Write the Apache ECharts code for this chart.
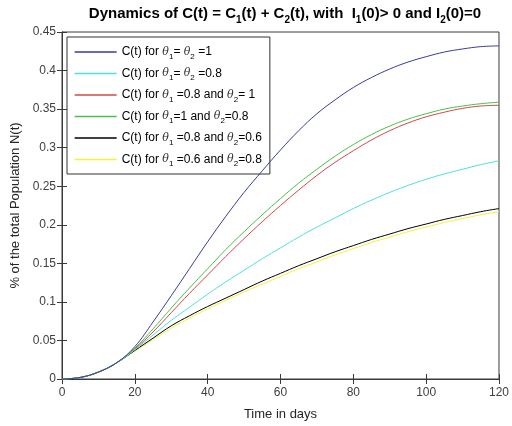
<!DOCTYPE html>
<html>
<head>
<meta charset="utf-8">
<script src="https://cdn.jsdelivr.net/npm/echarts@6/dist/echarts.min.js"></script>
<style>html,body{margin:0;padding:0;background:#fff;}#c{width:512px;height:426px;}</style>
</head>
<body>
<div id="c"></div>
<script>
var days = [0,5,10,15,20,25,30,35,40,45,50,55,60,65,70,75,80,85,90,95,100,105,110,115,120];
var xTicks = [0,20,40,60,80,100,120];
var yTicks = [0,0.05,0.1,0.15,0.2,0.25,0.3,0.35,0.4,0.45];

var cBoth1   = [0,0.002,0.009,0.021,0.042,0.074,0.108,0.143,0.178,0.211,0.242,0.270,0.297,0.322,0.344,0.362,0.378,0.391,0.402,0.411,0.418,0.424,0.428,0.431,0.432];
var cBoth08  = [0,0.002,0.009,0.021,0.038,0.057,0.076,0.093,0.110,0.126,0.141,0.156,0.170,0.184,0.197,0.209,0.221,0.232,0.242,0.251,0.259,0.266,0.272,0.278,0.283];
var c08and1  = [0,0.002,0.009,0.021,0.039,0.061,0.086,0.111,0.135,0.159,0.182,0.204,0.225,0.245,0.264,0.281,0.296,0.310,0.322,0.332,0.340,0.346,0.351,0.354,0.355];
var c1and08  = [0,0.002,0.009,0.021,0.040,0.065,0.092,0.118,0.143,0.168,0.191,0.213,0.234,0.254,0.272,0.289,0.304,0.317,0.328,0.337,0.344,0.350,0.354,0.357,0.359];
var c08and06 = [0,0.002,0.009,0.021,0.037,0.053,0.069,0.082,0.094,0.105,0.116,0.127,0.137,0.147,0.156,0.165,0.173,0.181,0.188,0.195,0.201,0.207,0.212,0.217,0.221];
var c06and08 = [0,0.002,0.009,0.021,0.036,0.051,0.066,0.079,0.091,0.102,0.113,0.123,0.133,0.143,0.152,0.161,0.169,0.177,0.184,0.191,0.197,0.203,0.208,0.213,0.217];

var names = ['s1','s2','s3','s4','s5','s6'];
var legendRich = {
  s1: '{n|C(t) for }{th|θ}{sb|1}{n|= }{th|θ}{sb|2}{n| =1}',
  s2: '{n|C(t) for }{th|θ}{sb|1}{n|= }{th|θ}{sb|2}{n| =0.8}',
  s3: '{n|C(t) for }{th|θ}{sb|1}{n| =0.8 and }{th|θ}{sb|2}{n|= 1}',
  s4: '{n|C(t) for }{th|θ}{sb|1}{n|=1 and }{th|θ}{sb|2}{n|=0.8}',
  s5: '{n|C(t) for }{th|θ}{sb|1}{n| =0.8 and }{th|θ}{sb|2}{n|=0.6}',
  s6: '{n|C(t) for }{th|θ}{sb|1}{n| =0.6 and }{th|θ}{sb|2}{n|=0.8}'
};
var seriesData = [cBoth1, cBoth08, c08and1, c1and08, c08and06, c06and08];
var colors = ['#3a3a9e','#4ee0e0','#d44848','#48c048','#000000','#f2f23a'];

function pairs(arr){ return days.map(function(d,i){ return [d, arr[i]]; }); }

var font = 'Liberation Sans, Arial, sans-serif';
var chart = echarts.init(document.getElementById('c'), null, {renderer:'canvas'});
var axisCol = '#3a3a3a';
var opt = {
  animation: false,
  backgroundColor: '#fff',
  title: {
    text: '{t|Dynamics of C(t) = C}{s|1}{t|(t) + C}{s|2}{t|(t), with  I}{s|1}{t|(0)> 0 and I}{s|2}{t|(0)=0}',
    left: 280, top: -2, textAlign: 'center',
    textStyle: {
      rich: {
        t: {fontFamily: font, fontWeight: 'bold', fontSize: 15, color: '#000', lineHeight: 22, verticalAlign: 'middle'},
        s: {fontFamily: font, fontWeight: 'bold', fontSize: 10, color: '#000', lineHeight: 10, verticalAlign: 'bottom'}
      }
    }
  },
  grid: {left: 62, right: 12, top: 32, bottom: 47, show: true, borderColor: axisCol, borderWidth: 1},
  legend: {
    orient: 'vertical', left: 67, top: 37,
    data: names,
    itemWidth: 42, itemHeight: 10, itemGap: 7,
    itemStyle: {opacity: 0},
    lineStyle: {width: 1.3},
    backgroundColor: '#fff', borderColor: '#333', borderWidth: 1,
    padding: [9, 8, 6, 7],
    formatter: function(n){ return legendRich[n]; },
    textStyle: {
      fontFamily: font, fontSize: 12, color: '#000',
      rich: {
        n: {fontFamily: font, fontSize: 12, color: '#000', lineHeight: 17, verticalAlign: 'middle'},
        th: {fontFamily: 'DejaVu Serif, serif', fontStyle: 'italic', fontSize: 11, color: '#333', lineHeight: 17, verticalAlign: 'middle'},
        sb: {fontFamily: font, fontSize: 8, color: '#000', lineHeight: 8, verticalAlign: 'bottom'}
      }
    }
  },
  xAxis: [{
    type: 'value', min: 0, max: 120, interval: 20,
    name: 'Time in days', nameLocation: 'middle', nameGap: 29,
    nameTextStyle: {fontFamily: font, fontSize: 13, color: '#262626'},
    axisLine: {show: true, lineStyle: {color: axisCol}},
    axisTick: {show: true, inside: true, length: 5, lineStyle: {color: axisCol}},
    axisLabel: {fontFamily: font, fontSize: 12, color: '#404040', margin: 8,
      formatter: function(v){ return xTicks.indexOf(v) >= 0 ? String(v) : ''; }},
    splitLine: {show: false}
  }, {
    type: 'value', min: 0, max: 120, interval: 20, position: 'top',
    axisLine: {show: true, lineStyle: {color: axisCol}},
    axisTick: {show: true, inside: true, length: 5, lineStyle: {color: axisCol}},
    axisLabel: {show: false}, splitLine: {show: false}
  }],
  yAxis: [{
    type: 'value', min: 0, max: 0.45, interval: 0.05,
    name: '% of the total Population N(t)', nameLocation: 'middle', nameGap: 35,
    nameTextStyle: {fontFamily: font, fontSize: 13, color: '#262626'},
    axisLine: {show: true, lineStyle: {color: axisCol}},
    axisTick: {show: true, inside: true, length: 5, lineStyle: {color: axisCol}},
    axisLabel: {fontFamily: font, fontSize: 12, color: '#404040', margin: 6,
      formatter: function(v){
        for (var i = 0; i < yTicks.length; i++) { if (Math.abs(yTicks[i]-v) < 1e-9) return String(yTicks[i]); }
        return '';
      }},
    splitLine: {show: false}
  }, {
    type: 'value', min: 0, max: 0.45, interval: 0.05, position: 'right',
    axisLine: {show: true, lineStyle: {color: axisCol}},
    axisTick: {show: true, inside: true, length: 5, lineStyle: {color: axisCol}},
    axisLabel: {show: false}, splitLine: {show: false}
  }],
  series: names.map(function(n, i){
    return {
      name: n, type: 'line', data: pairs(seriesData[i]),
      smooth: 0.4, symbol: 'none', showSymbol: false,
      lineStyle: {color: colors[i], width: 1}, itemStyle: {color: colors[i]},
      z: 10 - i
    };
  })
};
chart.setOption(opt);
</script>
</body>
</html>
